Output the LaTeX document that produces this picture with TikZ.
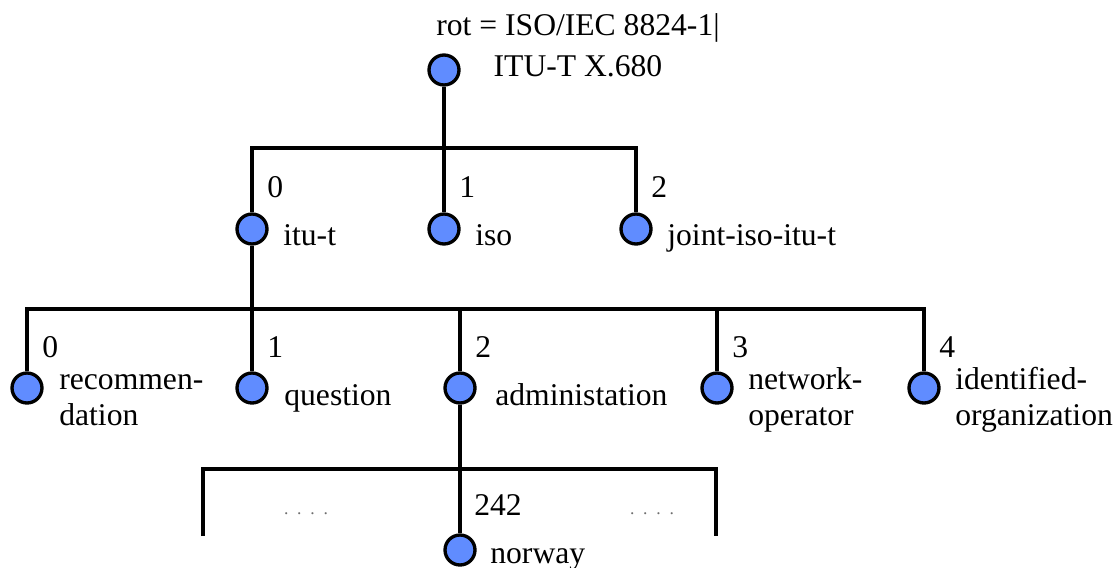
\documentclass[tikz,border=0pt]{standalone}
\usepackage{fontspec}
\setmainfont{Liberation Serif}
\usepackage{tikz}
\usetikzlibrary{positioning}
\definecolor{leaf}{RGB}{96,140,255}
\definecolor{dotgray}{RGB}{110,110,110}

\begin{document}
\begin{tikzpicture}[x=0.02cm, y=-0.02cm,
    arc/.style={line width=1.9pt},
    oid/.style={circle, draw, line width=1.9pt, fill=leaf, minimum size=0.6cm, inner sep=0pt},
    num/.style={anchor=base west, inner sep=0pt, font=\fontsize{18}{20}\selectfont},
    lbl/.style={num, align=left},
    title/.style={anchor=base, inner sep=0pt, align=center, font=\fontsize{18}{23}\selectfont},
    ellip/.style={inner sep=0pt, text=dotgray, font=\fontsize{10}{11}\selectfont}
]
    \useasboundingbox (0,0) rectangle (1117,568);

    % root
    \node[oid] (root) at (444,70) {};
    \node[title] (rootname) at (578,76) {rot = ISO/IEC 8824-1|\\ITU-T X.680};

    % first level
    \coordinate (j0) at (444,148);
    \node[oid] (itut) at (252,229) {};
    \node[oid] (iso) at (444,229) {};
    \node[oid] (joint) at (636,229) {};
    \draw[arc] (root) -- (j0) -- (iso);
    \draw[arc] (itut) |- (j0) -| (joint);

    \node[num] at (267,197) {0};
    \node[num] at (459,197) {1};
    \node[num] at (651,197) {2};
    \node[lbl] at (283,245) {itu-t};
    \node[lbl] at (475,245) {iso};
    \node[lbl] at (667,245) {joint-iso-itu-t};

    % second level
    \coordinate (j1) at (252,309);
    \coordinate (j1a) at (460,309);
    \coordinate (j1b) at (717,309);
    \node[oid] (rec) at (27,388) {};
    \node[oid] (que) at (252,388) {};
    \node[oid] (adm) at (460,388) {};
    \node[oid] (net) at (717,388) {};
    \node[oid] (idf) at (924,388) {};
    \draw[arc] (itut) -- (j1) -- (que);
    \draw[arc] (rec) |- (j1) -| (idf);
    \draw[arc] (j1a) -- (adm);
    \draw[arc] (j1b) -- (net);

    \node[num] at (42,357) {0};
    \node[num] at (267,357) {1};
    \node[num] at (475,357) {2};
    \node[num] at (732,357) {3};
    \node[num] at (939,357) {4};
    \node[lbl] at (59,425) {recommen-\\dation};
    \node[lbl] at (284,405) {question};
    \node[lbl] at (495,405) {administation};
    \node[lbl] at (748,425) {network-\\operator};
    \node[lbl] at (955,425) {identified-\\organization};

    % third level
    \coordinate (j2) at (460,469);
    \coordinate (j2l) at (203,469);
    \coordinate (j2r) at (716,469);
    \coordinate (e2l) at (203,536);
    \coordinate (e2r) at (716,536);
    \node[oid] (nor) at (460,550) {};
    \draw[arc] (adm) -- (j2) -- (nor);
    \draw[arc] (e2l) -- (j2l) -- (j2r) -- (e2r);

    \node[num] at (474,515) {242};
    \node[lbl] at (490,563) {norway};
    \node[ellip] at (306,514) {.\ \ .\ \ .\ \ .};
    \node[ellip] at (652,514) {.\ \ .\ \ .\ \ .};
\end{tikzpicture}
\end{document}
